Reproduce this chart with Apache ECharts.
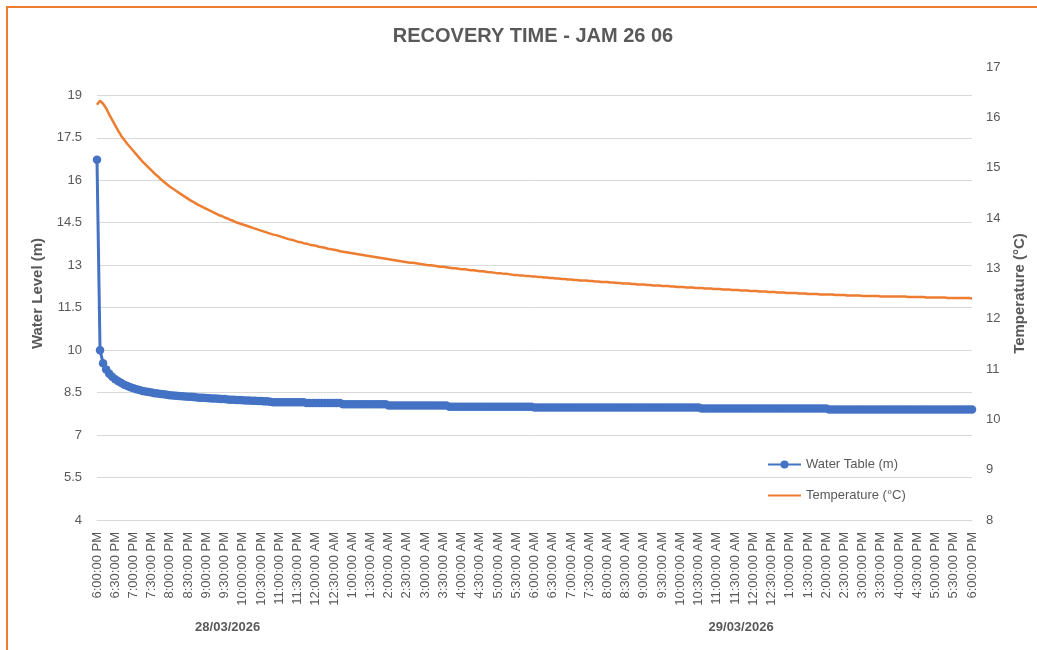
<!DOCTYPE html>
<html>
<head>
<meta charset="utf-8">
<title>Recovery Time - JAM 26 06</title>
<script src="https://cdn.jsdelivr.net/npm/echarts@6/dist/echarts.min.js"></script>
<style>
    html, body { margin: 0; padding: 0; background: #fff; }
    #chart { width: 1037px; height: 650px; }
</style>
</head>
<body>
<div id="chart"></div>
<script>
// readings every 5 minutes, 28/03/2026 6:00 PM -> 29/03/2026 6:00 PM
var startDay = 28, startMonth = 3, startYear = 2026;
var startMinute = 18 * 60;
var stepMinutes = 5;

// water table (m), one row per hour
var waterTable = [
    16.72, 10.00, 9.54, 9.32, 9.17, 9.06, 8.97, 8.90, 8.84, 8.78, 8.73, 8.69,
    8.65, 8.62, 8.59, 8.56, 8.54, 8.52, 8.50, 8.48, 8.47, 8.45, 8.44, 8.42,
    8.41, 8.40, 8.39, 8.38, 8.37, 8.36, 8.35, 8.35, 8.34, 8.33, 8.32, 8.32,
    8.31, 8.30, 8.29, 8.29, 8.28, 8.27, 8.27, 8.26, 8.25, 8.25, 8.24, 8.24,
    8.23, 8.22, 8.22, 8.21, 8.21, 8.20, 8.20, 8.19, 8.19, 8.18, 8.16, 8.16,
    8.16, 8.16, 8.16, 8.16, 8.16, 8.16, 8.16, 8.16, 8.16, 8.13, 8.13, 8.13,
    8.13, 8.13, 8.13, 8.13, 8.13, 8.13, 8.13, 8.13, 8.13, 8.09, 8.09, 8.09,
    8.09, 8.09, 8.09, 8.09, 8.09, 8.09, 8.09, 8.09, 8.09, 8.09, 8.09, 8.09,
    8.04, 8.04, 8.04, 8.04, 8.04, 8.04, 8.04, 8.04, 8.04, 8.04, 8.04, 8.04,
    8.04, 8.04, 8.04, 8.04, 8.04, 8.04, 8.04, 8.04, 8.00, 8.00, 8.00, 8.00,
    8.00, 8.00, 8.00, 8.00, 8.00, 8.00, 8.00, 8.00, 8.00, 8.00, 8.00, 8.00,
    8.00, 8.00, 8.00, 8.00, 8.00, 8.00, 8.00, 8.00, 8.00, 8.00, 8.00, 8.00,
    7.97, 7.97, 7.97, 7.97, 7.97, 7.97, 7.97, 7.97, 7.97, 7.97, 7.97, 7.97,
    7.97, 7.97, 7.97, 7.97, 7.97, 7.97, 7.97, 7.97, 7.97, 7.97, 7.97, 7.97,
    7.97, 7.97, 7.97, 7.97, 7.97, 7.97, 7.97, 7.97, 7.97, 7.97, 7.97, 7.97,
    7.97, 7.97, 7.97, 7.97, 7.97, 7.97, 7.97, 7.97, 7.97, 7.97, 7.97, 7.97,
    7.97, 7.97, 7.97, 7.97, 7.97, 7.97, 7.97, 7.94, 7.94, 7.94, 7.94, 7.94,
    7.94, 7.94, 7.94, 7.94, 7.94, 7.94, 7.94, 7.94, 7.94, 7.94, 7.94, 7.94,
    7.94, 7.94, 7.94, 7.94, 7.94, 7.94, 7.94, 7.94, 7.94, 7.94, 7.94, 7.94,
    7.94, 7.94, 7.94, 7.94, 7.94, 7.94, 7.94, 7.94, 7.94, 7.94, 7.94, 7.94,
    7.94, 7.90, 7.90, 7.90, 7.90, 7.90, 7.90, 7.90, 7.90, 7.90, 7.90, 7.90,
    7.90, 7.90, 7.90, 7.90, 7.90, 7.90, 7.90, 7.90, 7.90, 7.90, 7.90, 7.90,
    7.90, 7.90, 7.90, 7.90, 7.90, 7.90, 7.90, 7.90, 7.90, 7.90, 7.90, 7.90,
    7.90, 7.90, 7.90, 7.90, 7.90, 7.90, 7.90, 7.90, 7.90, 7.90, 7.90, 7.90,
    7.90
];

// temperature (°C), one row per hour
var temperature = [
    16.25, 16.33, 16.27, 16.18, 16.06, 15.95, 15.84, 15.73, 15.63, 15.55, 15.47, 15.40,
    15.33, 15.26, 15.19, 15.12, 15.06, 15.00, 14.94, 14.88, 14.83, 14.77, 14.72, 14.67,
    14.62, 14.58, 14.54, 14.50, 14.46, 14.42, 14.38, 14.34, 14.31, 14.27, 14.24, 14.21,
    14.18, 14.15, 14.12, 14.09, 14.06, 14.04, 14.01, 13.99, 13.96, 13.94, 13.91, 13.89,
    13.87, 13.85, 13.83, 13.81, 13.79, 13.77, 13.75, 13.73, 13.71, 13.69, 13.67, 13.66,
    13.64, 13.62, 13.60, 13.58, 13.57, 13.55, 13.53, 13.52, 13.50, 13.49, 13.47, 13.46,
    13.45, 13.43, 13.42, 13.41, 13.39, 13.38, 13.37, 13.36, 13.34, 13.33, 13.32, 13.31,
    13.30, 13.29, 13.28, 13.27, 13.26, 13.25, 13.24, 13.23, 13.22, 13.21, 13.20, 13.19,
    13.18, 13.17, 13.16, 13.15, 13.14, 13.13, 13.12, 13.11, 13.11, 13.10, 13.09, 13.08,
    13.07, 13.06, 13.06, 13.05, 13.04, 13.03, 13.03, 13.02, 13.01, 13.00, 13.00, 12.99,
    12.98, 12.98, 12.97, 12.96, 12.96, 12.95, 12.94, 12.94, 12.93, 12.92, 12.92, 12.91,
    12.90, 12.90, 12.89, 12.89, 12.88, 12.87, 12.87, 12.86, 12.86, 12.85, 12.85, 12.84,
    12.84, 12.83, 12.83, 12.82, 12.82, 12.81, 12.81, 12.80, 12.80, 12.79, 12.79, 12.78,
    12.78, 12.77, 12.77, 12.76, 12.76, 12.76, 12.75, 12.75, 12.74, 12.74, 12.73, 12.73,
    12.73, 12.72, 12.72, 12.71, 12.71, 12.70, 12.70, 12.70, 12.69, 12.69, 12.68, 12.68,
    12.68, 12.67, 12.67, 12.66, 12.66, 12.66, 12.65, 12.65, 12.65, 12.64, 12.64, 12.63,
    12.63, 12.63, 12.62, 12.62, 12.62, 12.61, 12.61, 12.61, 12.60, 12.60, 12.60, 12.59,
    12.59, 12.59, 12.58, 12.58, 12.58, 12.57, 12.57, 12.57, 12.56, 12.56, 12.56, 12.55,
    12.55, 12.55, 12.54, 12.54, 12.54, 12.53, 12.53, 12.53, 12.52, 12.52, 12.52, 12.51,
    12.51, 12.51, 12.51, 12.50, 12.50, 12.50, 12.49, 12.49, 12.49, 12.49, 12.48, 12.48,
    12.48, 12.48, 12.48, 12.47, 12.47, 12.47, 12.47, 12.46, 12.46, 12.46, 12.46, 12.46,
    12.45, 12.45, 12.45, 12.45, 12.45, 12.45, 12.44, 12.44, 12.44, 12.44, 12.44, 12.44,
    12.44, 12.44, 12.44, 12.43, 12.43, 12.43, 12.43, 12.43, 12.43, 12.42, 12.42, 12.42,
    12.42, 12.42, 12.42, 12.42, 12.41, 12.41, 12.41, 12.41, 12.41, 12.41, 12.41, 12.41,
    12.40
];

var waterTicks = { min: 4, max: 20, step: 1.5 };
var tempTicks = { min: 8, max: 17, step: 1 };
// categories where the date group label sits
var dateLabelIdx = [43, 212];

function pad(n) {
    return n < 10 ? '0' + n : '' + n;
}

function buildCategories(count) {
    var out = [];
    for (var i = 0; i < count; i++) {
        var total = startMinute + i * stepMinutes;
        var day = startDay + Math.floor(total / 1440);
        var m = total % 1440;
        var h24 = Math.floor(m / 60);
        var h12 = h24 % 12 === 0 ? 12 : h24 % 12;
        var ampm = h24 < 12 ? 'AM' : 'PM';
        out.push(pad(day) + '/' + pad(startMonth) + '/' + startYear + ' ' +
            h12 + ':' + pad(m % 60) + ':00 ' + ampm);
    }
    return out;
}

var categories = buildCategories(waterTable.length);

var grey = '#595959';
var gridGrey = '#D9D9D9';
var font = '"Liberation Sans", Arial, sans-serif';

var myChart = echarts.init(document.getElementById('chart'), null, { renderer: 'canvas' });

var option = {
    animation: false,
    backgroundColor: '#fff',
    textStyle: { fontFamily: font, color: grey },
    title: {
        text: 'RECOVERY TIME - JAM 26 06',
        left: 528,
        top: 21,
        textAlign: 'center',
        textStyle: { fontFamily: font, fontSize: 20, fontWeight: 'bold', color: grey }
    },
    graphic: [{
        type: 'rect',
        shape: { x: 7, y: 7, width: 1100, height: 700 },
        style: { fill: 'none', stroke: '#ED7D31', lineWidth: 2 },
        silent: true
    }],
    legend: {
        orient: 'vertical',
        left: 762,
        top: 453,
        itemWidth: 33,
        itemHeight: 10,
        itemGap: 18,
        textStyle: { fontFamily: font, fontSize: 13, color: grey },
        data: [
            { name: 'Water Table (m)' },
            { name: 'Temperature (°C)', itemStyle: { opacity: 0 } }
        ]
    },
    grid: { left: 97, right: 65, top: 67, bottom: 130 },
    xAxis: [
        {
            type: 'category',
            data: categories,
            boundaryGap: false,
            axisLine: { lineStyle: { color: gridGrey } },
            axisTick: { show: false },
            splitLine: { show: false },
            axisLabel: {
                interval: 5,
                rotate: 90,
                margin: 12,
                fontSize: 13,
                color: grey,
                formatter: function (v) {
                    var p = v.split(' ');
                    return p[1] + ' ' + p[2];
                }
            }
        },
        {
            type: 'category',
            data: categories,
            position: 'bottom',
            offset: 101,
            boundaryGap: false,
            axisLine: { show: false },
            axisTick: { show: false },
            splitLine: { show: false },
            axisLabel: {
                interval: function (idx) {
                    return dateLabelIdx.indexOf(idx) >= 0;
                },
                margin: 0,
                fontSize: 13,
                fontWeight: 'bold',
                color: grey,
                formatter: function (v) {
                    return v.split(' ')[0];
                }
            }
        }
    ],
    yAxis: [
        {
            type: 'value',
            position: 'left',
            min: waterTicks.min,
            max: waterTicks.max,
            interval: waterTicks.step,
            name: 'Water Level (m)',
            nameLocation: 'middle',
            nameRotate: 90,
            nameGap: 43,
            nameTextStyle: { fontFamily: font, fontSize: 15, fontWeight: 'bold', color: grey },
            axisLine: { show: false },
            axisTick: { show: false },
            axisLabel: { margin: 15, fontSize: 13, color: grey, showMaxLabel: false },
            splitLine: { show: true, showMaxLine: false, lineStyle: { color: gridGrey, width: 1 } }
        },
        {
            type: 'value',
            position: 'right',
            min: tempTicks.min,
            max: tempTicks.max,
            interval: tempTicks.step,
            name: 'Temperature (°C)',
            nameLocation: 'middle',
            nameRotate: 90,
            nameGap: 40,
            nameTextStyle: { fontFamily: font, fontSize: 15, fontWeight: 'bold', color: grey },
            axisLine: { show: false },
            axisTick: { show: false },
            axisLabel: { margin: 14, fontSize: 13, color: grey },
            splitLine: { show: false }
        }
    ],
    series: [
        {
            name: 'Water Table (m)',
            type: 'line',
            xAxisIndex: 0,
            yAxisIndex: 0,
            data: waterTable,
            symbol: 'circle',
            symbolSize: 8.5,
            showSymbol: true,
            showAllSymbol: true,
            color: '#4472C4',
            lineStyle: { color: '#4472C4', width: 3 },
            itemStyle: { color: '#4472C4' },
            z: 3
        },
        {
            name: 'Temperature (°C)',
            type: 'line',
            xAxisIndex: 0,
            yAxisIndex: 1,
            data: temperature,
            symbol: 'none',
            color: '#ED7D31',
            lineStyle: { color: '#ED7D31', width: 2.5 },
            z: 2
        }
    ]
};

myChart.setOption(option);
</script>
</body>
</html>
